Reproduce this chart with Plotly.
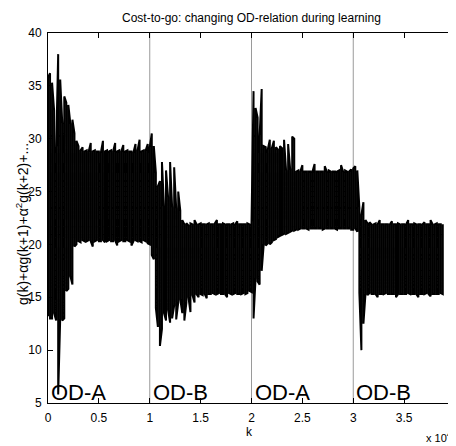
import plotly.graph_objects as go

title_text = "Cost-to-go: changing OD-relation during learning"
x_tick_vals = [0, 5000, 10000, 15000, 20000, 25000, 30000, 35000, 40000]
x_tick_text = ["0", "0.5", "1", "1.5", "2", "2.5", "3", "3.5", "4"]
y_tick_vals = [5, 10, 15, 20, 25, 30, 35, 40]
phase_starts = [0, 10000, 20000, 30000]
phase_names = ["OD-A", "OD-B", "OD-A", "OD-B"]
phase_bounds = [10000, 20000, 30000]

# sample positions k (learning step) and the read-off envelope of the cost signal
k_samples = list(range(0, 39000, 200))
upper = [
    35.8, 36.2, 35.3, 32.7, 29.2,
    38.0, 35.6, 31.5, 34.0, 33.4,
    33.2, 31.4, 31.8, 30.5, 29.8,
    29.3, 28.9, 29.2, 28.8, 28.9,
    28.8, 29.6, 28.8, 28.9, 28.8,
    28.8, 28.7, 29.8, 28.8, 28.9,
    28.8, 28.9, 28.8, 29.6, 28.8,
    28.9, 28.8, 29.4, 28.8, 28.9,
    28.8, 28.8, 28.7, 29.5, 28.9,
    29.9, 28.8, 28.9, 28.9, 29.5,
    29.2, 30.5, 29.3, 26.8, 25.5,
    26.0, 27.8, 23.6, 27.0, 24.5,
    27.8, 23.5, 27.3, 23.4, 25.0,
    23.2, 22.3, 21.9, 22.0, 21.8,
    22.0, 21.9, 22.3, 21.9, 21.9,
    22.0, 21.9, 21.9, 21.9, 22.0,
    21.9, 21.9, 22.0, 22.3, 21.9,
    21.9, 22.0, 21.9, 21.9, 21.9,
    21.9, 22.0, 21.9, 22.2, 21.9,
    21.9, 21.9, 21.9, 22.0, 21.9,
    22.0, 34.5, 32.9, 32.0, 30.3,
    34.7, 29.3, 29.2, 29.0, 29.9,
    29.1, 29.8, 29.2, 29.0, 29.3,
    29.1, 29.9, 27.0, 29.5, 27.1,
    30.2, 30.0, 26.9, 27.0, 26.9,
    27.5, 26.9, 26.9, 26.9, 26.9,
    26.9, 27.6, 26.9, 26.9, 26.9,
    26.9, 27.4, 26.9, 27.0, 26.9,
    26.9, 26.9, 26.9, 27.0, 27.5,
    26.9, 27.0, 26.9, 26.9, 27.1,
    27.2, 27.4, 27.0, 23.5, 22.8,
    24.0, 22.3, 22.0, 22.1, 21.9,
    21.9, 22.0, 21.9, 22.3, 21.9,
    21.9, 21.9, 21.9, 21.9, 22.2,
    21.9, 21.9, 22.0, 21.9, 21.9,
    21.9, 21.9, 22.3, 21.9, 21.9,
    22.0, 21.9, 21.9, 21.9, 21.9,
    22.1, 21.9, 21.9, 22.3, 21.9,
    21.9, 22.0, 21.9, 21.9, 21.9,
]
lower = [
    13.2, 13.0, 13.0, 13.5, 12.8,
    5.8, 13.0, 12.8, 13.0, 15.6,
    15.8, 17.0, 16.2, 19.8, 20.0,
    20.3, 20.2, 20.4, 20.3, 20.3,
    20.4, 20.3, 19.8, 20.3, 20.4,
    20.3, 20.3, 20.4, 20.2, 20.3,
    20.4, 20.3, 20.3, 20.4, 19.9,
    20.3, 20.4, 20.3, 20.3, 20.4,
    20.3, 19.9, 20.3, 20.4, 20.3,
    20.3, 20.2, 20.4, 20.3, 20.1,
    20.0, 19.0, 18.6, 14.0, 12.2,
    10.4, 12.0, 13.5, 12.8, 13.8,
    12.6, 13.0, 14.2, 12.9, 14.5,
    14.8, 13.5, 12.8, 14.5, 15.0,
    13.6, 15.2, 14.5, 15.3, 15.0,
    15.3, 15.2, 15.3, 14.9, 15.3,
    15.3, 15.4, 15.3, 15.3, 15.4,
    15.3, 15.3, 15.3, 15.0, 15.4,
    15.3, 15.3, 15.4, 15.3, 15.3,
    15.3, 15.4, 15.3, 15.4, 15.6,
    15.5, 13.0, 16.8, 16.5, 16.2,
    17.5, 20.0, 19.9, 20.1, 20.0,
    20.2, 20.4, 20.5, 20.7, 20.8,
    20.9, 21.0, 21.0, 21.1, 21.2,
    21.3, 21.3, 21.4, 21.4, 21.5,
    21.5, 21.5, 21.5, 21.4, 21.5,
    21.5, 21.5, 21.5, 21.5, 21.5,
    21.4, 21.5, 21.5, 21.5, 21.5,
    21.5, 21.5, 21.4, 21.5, 21.5,
    21.5, 21.5, 21.5, 21.5, 21.4,
    21.4, 21.5, 21.2, 15.4, 10.0,
    12.5, 15.3, 15.2, 15.4, 15.3,
    15.3, 15.3, 15.0, 15.3, 15.3,
    15.3, 15.4, 15.3, 15.3, 15.3,
    15.3, 15.0, 15.3, 15.3, 15.3,
    15.3, 15.3, 15.4, 15.3, 15.3,
    15.3, 15.3, 15.0, 15.3, 15.3,
    15.3, 15.4, 15.3, 15.1, 15.3,
    15.3, 15.3, 15.3, 15.4, 15.3,
]

# build the dense oscillation as a zigzag between the envelopes
xs, ys = [], []
for i, (kk, hi, lo) in enumerate(zip(k_samples, upper, lower)):
    xs += [kk, kk]
    ys += [lo, hi] if i % 2 == 0 else [hi, lo]

FONT = "Liberation Sans, Arial, sans-serif"

fig = go.Figure()
fig.add_trace(go.Scatter(x=xs, y=ys, mode="lines",
                         line=dict(color="black", width=2.0),
                         hoverinfo="skip"))

for b in phase_bounds:
    fig.add_shape(type="line", xref="x", yref="y", x0=b, x1=b, y0=5, y1=40,
                  line=dict(color="#9a9a9a", width=1), layer="below")

for s, name in zip(phase_starts, phase_names):
    fig.add_annotation(x=s, y=5, xref="x", yref="y", text=name, showarrow=False,
                       xanchor="left", yanchor="bottom", xshift=1, yshift=-4,
                       font=dict(family=FONT, size=22, color="black"))

fig.add_annotation(text=title_text, xref="paper", yref="paper",
                   x=0.5, y=(403 - 18) / 370, xanchor="center", yanchor="middle",
                   showarrow=False, font=dict(family=FONT, size=12, color="black"))
fig.add_annotation(text="g(k)+αg(k+1)+α<sup>2</sup>g(k+2)+...", xref="paper", yref="paper",
                   x=(22 - 48) / 407, y=(403 - 224) / 370, textangle=-90,
                   xanchor="center", yanchor="middle", showarrow=False,
                   font=dict(family=FONT, size=14, color="black"))
fig.add_annotation(text="k", xref="paper", yref="paper",
                   x=(249 - 48) / 407, y=(403 - 432) / 370,
                   xanchor="center", yanchor="middle", showarrow=False,
                   font=dict(family=FONT, size=12, color="black"))
fig.add_annotation(text="x 10<sup>4</sup>", xref="paper", yref="paper",
                   x=(439 - 48) / 407, y=(403 - 437) / 370,
                   xanchor="center", yanchor="middle", showarrow=False,
                   font=dict(family=FONT, size=11, color="black"))

axis_common = dict(showline=True, linecolor="black", linewidth=1, mirror="ticks",
                   ticks="inside", ticklen=5, tickcolor="black", showgrid=False,
                   zeroline=False, automargin=False,
                   tickfont=dict(family=FONT, size=12, color="black"))
fig.update_xaxes(range=[0, 40000], tickvals=x_tick_vals, ticktext=x_tick_text,
                 ticklabelstandoff=4, **axis_common)
fig.update_yaxes(range=[5, 40], tickvals=y_tick_vals, ticklabelstandoff=3, **axis_common)

# the page body adds an 8px margin, so the figure is sized/offset to compensate
fig.update_layout(width=448, height=438,
                  margin=dict(l=40, r=1, t=25, b=43, pad=0, autoexpand=False),
                  plot_bgcolor="white", paper_bgcolor="white", showlegend=False,
                  font=dict(family=FONT, size=12, color="black"))

fig.write_html("out.html")
